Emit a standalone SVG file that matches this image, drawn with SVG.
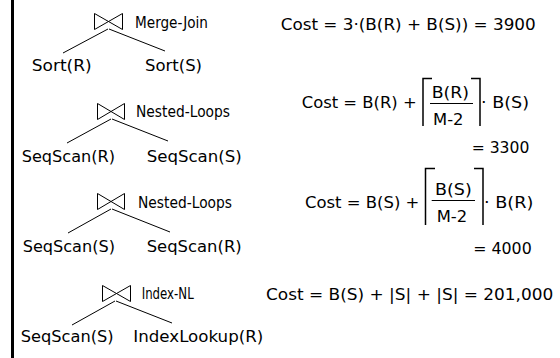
<svg xmlns="http://www.w3.org/2000/svg" width="560" height="358" viewBox="0 0 560 358">
  <style>
    .t { font-family: "DejaVu Sans", Verdana, sans-serif; font-size: 16px; fill: #000; }
    .op { font-family: "DejaVu Sans Condensed", "DejaVu Sans", sans-serif; font-stretch: condensed; font-size: 15px; fill: #000; }
    .edge { stroke: #000; stroke-width: 1; fill: none; }
    .bow { stroke: #000; stroke-width: 1; fill: none; }
    .brk { stroke: #000; stroke-width: 1.5; fill: none; }
    .frac { stroke: #000; stroke-width: 1; }
  </style>

  <rect x="0" y="0" width="560" height="358" fill="#fff"/>
  <!-- left margin bar -->
  <rect x="11" y="0" width="3" height="358" fill="#000"/>

  <!-- plan tree connectors -->
  <g id="connectors">
    <line class="edge" x1="108" y1="29" x2="63" y2="53"/>
    <line class="edge" x1="109" y1="29" x2="165" y2="51"/>
    <line class="edge" x1="111" y1="119" x2="67" y2="143"/>
    <line class="edge" x1="112" y1="119" x2="168" y2="141"/>
    <line class="edge" x1="111" y1="209" x2="68" y2="233"/>
    <line class="edge" x1="112" y1="209" x2="170" y2="232"/>
    <line class="edge" x1="115" y1="301" x2="72" y2="325"/>
    <line class="edge" x1="116" y1="301" x2="172" y2="323"/>
  </g>

  <!-- plan 1: merge join -->
  <g id="join1">
    <path class="bow" d="M94.5,13.5 l28,16 v-16 l-28,16 z"/>
    <text class="op" x="135" y="27.5" textLength="73" lengthAdjust="spacingAndGlyphs">Merge-Join</text>
  </g>
  <g id="sort-r">
    <text class="t" x="31.7" y="71" textLength="60" lengthAdjust="spacingAndGlyphs">Sort(R)</text>
  </g>
  <g id="sort-s">
    <text class="t" x="145" y="71" textLength="57" lengthAdjust="spacingAndGlyphs">Sort(S)</text>
  </g>
  <g id="cost1">
    <text class="t" x="280.7" y="30" textLength="255" lengthAdjust="spacingAndGlyphs">Cost = 3·(B(R) + B(S)) = 3900</text>
  </g>

  <!-- plan 2: nested loops, R outer -->
  <g id="join2">
    <path class="bow" d="M97.5,103.5 l27,16 v-16 l-27,16 z"/>
    <text class="op" x="136" y="117" textLength="94" lengthAdjust="spacingAndGlyphs">Nested-Loops</text>
  </g>
  <g id="scan2-r">
    <text class="t" x="21.7" y="161.7" textLength="93.3" lengthAdjust="spacingAndGlyphs">SeqScan(R)</text>
  </g>
  <g id="scan2-s">
    <text class="t" x="146.7" y="161.7" textLength="95" lengthAdjust="spacingAndGlyphs">SeqScan(S)</text>
  </g>
  <g id="cost2">
    <text class="t" x="301.7" y="107.5" textLength="115" lengthAdjust="spacingAndGlyphs">Cost = B(R) +</text>
    <path class="brk" d="M432,78.5 H423 V126 M471,78.5 H480 V126"/>
    <text class="t" x="431.7" y="97.5" textLength="37.3" lengthAdjust="spacingAndGlyphs">B(R)</text>
    <line class="frac" x1="430" y1="103.5" x2="473" y2="103.5"/>
    <text class="t" x="433" y="124.5" textLength="30.5" lengthAdjust="spacingAndGlyphs">M-2</text>
    <text class="t" x="481" y="107.5" textLength="48" lengthAdjust="spacingAndGlyphs">· B(S)</text>
    <text class="t" x="471.7" y="152.5" textLength="57.6" lengthAdjust="spacingAndGlyphs">= 3300</text>
  </g>

  <!-- plan 3: nested loops, S outer -->
  <g id="join3">
    <path class="bow" d="M97.5,193.5 l27,16 v-16 l-27,16 z"/>
    <text class="op" x="138" y="208" textLength="94" lengthAdjust="spacingAndGlyphs">Nested-Loops</text>
  </g>
  <g id="scan3-s">
    <text class="t" x="22.7" y="251.7" textLength="92.3" lengthAdjust="spacingAndGlyphs">SeqScan(S)</text>
  </g>
  <g id="scan3-r">
    <text class="t" x="146.7" y="251.7" textLength="95" lengthAdjust="spacingAndGlyphs">SeqScan(R)</text>
  </g>
  <g id="cost3">
    <text class="t" x="305" y="208" textLength="114.3" lengthAdjust="spacingAndGlyphs">Cost = B(S) +</text>
    <path class="brk" d="M435,168.5 H425.5 V225 M474,168.5 H483 V225"/>
    <text class="t" x="435" y="194.5" textLength="36.7" lengthAdjust="spacingAndGlyphs">B(S)</text>
    <line class="frac" x1="431.7" y1="200.5" x2="475" y2="200.5"/>
    <text class="t" x="436.7" y="222" textLength="30.5" lengthAdjust="spacingAndGlyphs">M-2</text>
    <text class="t" x="484" y="208" textLength="49.3" lengthAdjust="spacingAndGlyphs">· B(R)</text>
    <text class="t" x="473.3" y="253.7" textLength="58.4" lengthAdjust="spacingAndGlyphs">= 4000</text>
  </g>

  <!-- plan 4: index nested loops -->
  <g id="join4">
    <path class="bow" d="M102.5,285.5 l28,16 v-16 l-28,16 z"/>
    <text class="op" x="141.7" y="299" textLength="52" lengthAdjust="spacingAndGlyphs">Index-NL</text>
  </g>
  <g id="scan4-s">
    <text class="t" x="20.7" y="341.7" textLength="93" lengthAdjust="spacingAndGlyphs">SeqScan(S)</text>
  </g>
  <g id="lookup4-r">
    <text class="t" x="133.3" y="341.7" textLength="130" lengthAdjust="spacingAndGlyphs">IndexLookup(R)</text>
  </g>
  <g id="cost4">
    <text class="t" x="266" y="299.5" textLength="287.3" lengthAdjust="spacingAndGlyphs">Cost = B(S) + |S| + |S| = 201,000</text>
  </g>
</svg>
